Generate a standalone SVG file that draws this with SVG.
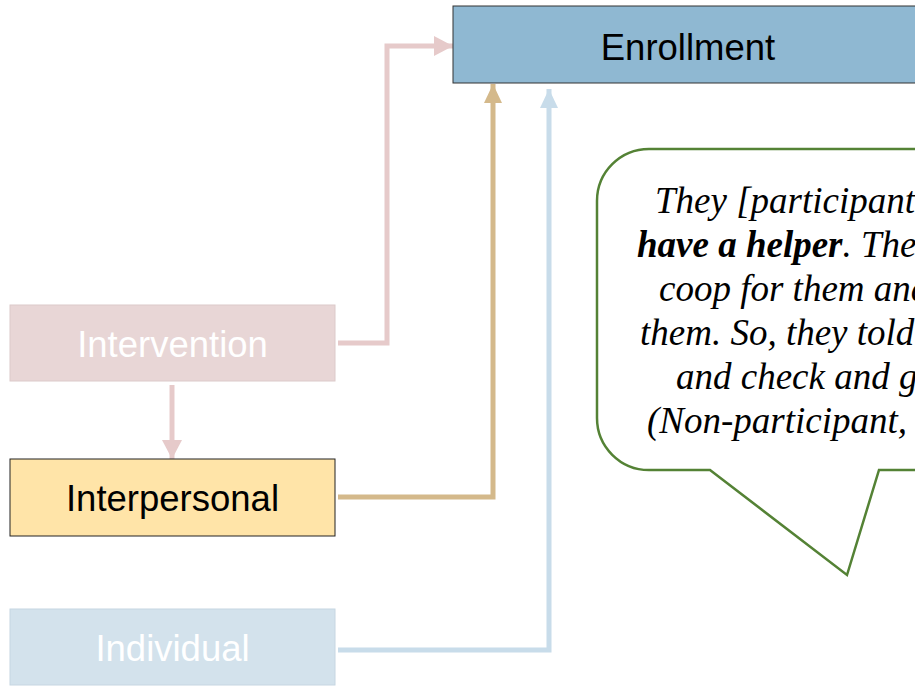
<svg xmlns="http://www.w3.org/2000/svg" width="915" height="686" viewBox="0 0 915 686">
<style>
.lbl{font-family:"Liberation Sans",Arial,sans-serif;font-size:36.5px;text-anchor:middle}
.q{font-family:"Liberation Serif","Times New Roman",serif;font-size:37px;font-style:italic;fill:#000}
.c{fill:none;stroke-width:5}
</style>
<defs>
<marker id="ap" markerUnits="userSpaceOnUse" markerWidth="20" markerHeight="20" refX="19" refY="10" orient="auto"><path d="M0,0 L19,10 L0,20 Z" fill="#e6caca"/></marker>
<marker id="at" markerUnits="userSpaceOnUse" markerWidth="20" markerHeight="20" refX="19" refY="10" orient="auto"><path d="M0,1 L19,10 L0,19 Z" fill="#d4b98b"/></marker>
<marker id="ab" markerUnits="userSpaceOnUse" markerWidth="20" markerHeight="20" refX="19" refY="10" orient="auto"><path d="M0,1 L19,10 L0,19 Z" fill="#c8dcea"/></marker>
</defs>
<rect width="915" height="686" fill="#fff"/>
<g id="callout">
<path d="M 925 149 H 649 A 52 52 0 0 0 597 201 V 418 A 52 52 0 0 0 649 470 H 710 L 847 575 L 879 470 H 925" fill="#fff" stroke="#548235" stroke-width="2.5"/>
<text class="q" x="655" y="213">They [participant</text>
<text class="q" x="637" y="257"><tspan font-weight="bold">have a helper</tspan>. The</text>
<text class="q" x="659" y="301">coop for them and</text>
<text class="q" x="640" y="345">them. So, they told</text>
<text class="q" x="676" y="389">and check and g</text>
<text class="q" x="647" y="433">(Non-participant,</text>
</g>
<g id="connectors">
<path class="c" stroke="#e6caca" d="M338 343 H387 V46 H453" marker-end="url(#ap)"/>
<path class="c" stroke="#e6caca" d="M172 385 V459" marker-end="url(#ap)"/>
<path class="c" stroke="#d4b98b" d="M338 497 H493 V84" marker-end="url(#at)"/>
<path class="c" stroke="#c8dcea" d="M338 650 H549 V89" marker-end="url(#ab)"/>
</g>
<g id="enrollment">
<rect x="453" y="6" width="470" height="77" fill="#8fb8d2" stroke="#333" stroke-width="1"/>
<text class="lbl" x="688" y="60" fill="#000">Enrollment</text>
</g>
<g id="intervention">
<rect x="10" y="305" width="325" height="76" fill="#e8d6d6" stroke="#dccaca" stroke-width="1"/>
<text class="lbl" x="172.5" y="357" fill="#fff">Intervention</text>
</g>
<g id="interpersonal">
<rect x="10" y="459" width="325" height="77" fill="#ffe4a8" stroke="#222" stroke-width="1"/>
<text class="lbl" x="172.5" y="511" fill="#000">Interpersonal</text>
</g>
<g id="individual">
<rect x="10" y="609" width="325" height="76" fill="#d3e2ec" stroke="#c6d6e2" stroke-width="1"/>
<text class="lbl" x="172.5" y="661" fill="#fff">Individual</text>
</g>
</svg>
